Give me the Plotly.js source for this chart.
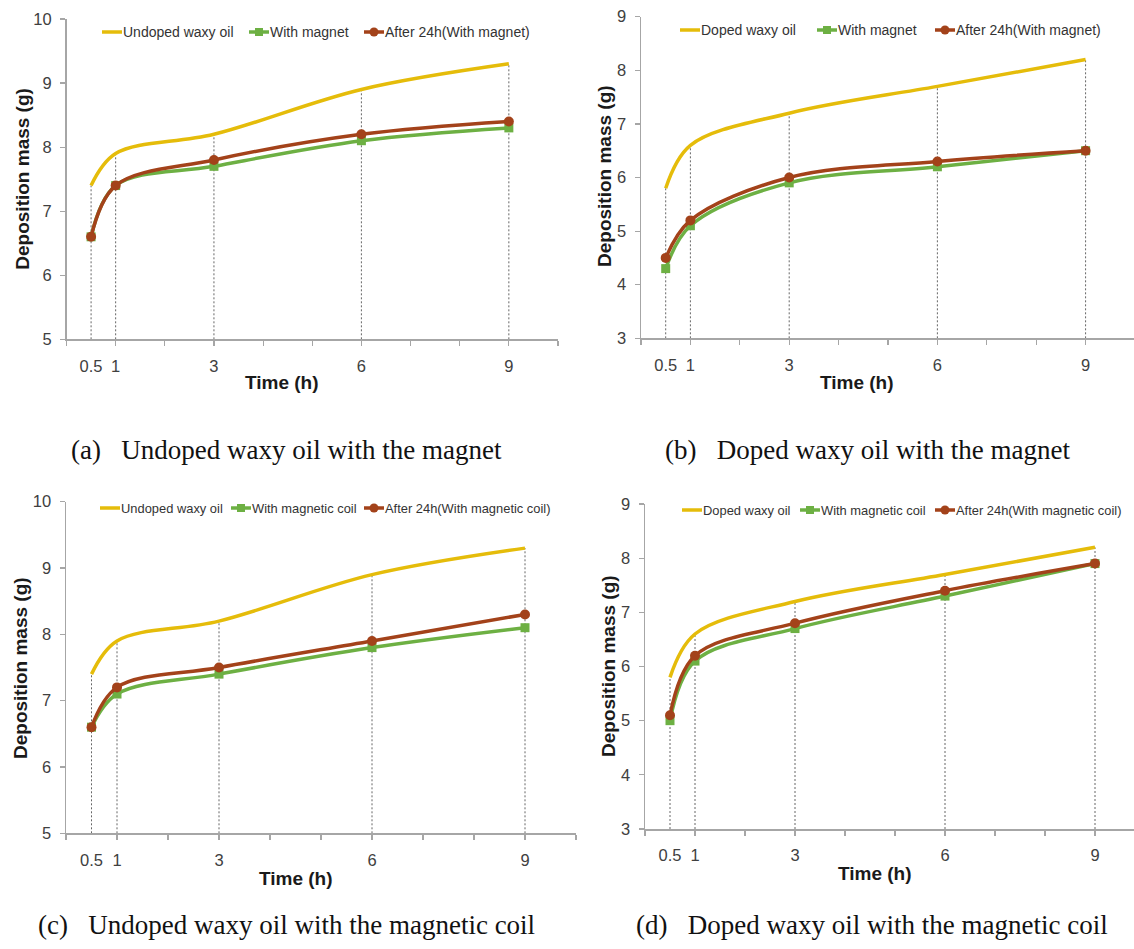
<!DOCTYPE html>
<html><head><meta charset="utf-8">
<script src="https://cdn.plot.ly/plotly-3.0.1.min.js"></script>
<style>html,body{margin:0;padding:0;background:#fff}#chart{width:1134px;height:949px}</style>
</head><body><div id="chart"></div>
<script>
// ---------- data ----------
const time = [0.5, 1, 3, 6, 9];
const timeTickText = ['0.5', '1', '3', '6', '9'];

const undopedOil = [7.4, 7.9, 8.2, 8.9, 9.3];
const dopedOil = [5.8, 6.6, 7.2, 7.7, 8.2];

const undopedWithMagnet = [6.6, 7.4, 7.7, 8.1, 8.3];
const undopedAfter24hMagnet = [6.6, 7.4, 7.8, 8.2, 8.4];

const dopedWithMagnet = [4.3, 5.1, 5.9, 6.2, 6.5];
const dopedAfter24hMagnet = [4.5, 5.2, 6.0, 6.3, 6.5];

const undopedWithCoil = [6.6, 7.1, 7.4, 7.8, 8.1];
const undopedAfter24hCoil = [6.6, 7.2, 7.5, 7.9, 8.3];

const dopedWithCoil = [5.0, 6.1, 6.7, 7.3, 7.9];
const dopedAfter24hCoil = [5.1, 6.2, 6.8, 7.4, 7.9];

const captions = [
  '(a)\u00a0\u00a0 Undoped waxy oil with the magnet',
  '(b)\u00a0\u00a0 Doped waxy oil with the magnet',
  '(c)\u00a0\u00a0 Undoped waxy oil with the magnetic coil',
  '(d)\u00a0\u00a0 Doped waxy oil with the magnetic coil'
];
const xTitle = 'Time (h)';
const yTitle = 'Deposition mass (g)';

// ---------- styling ----------
const W = 1134, H = 949;
const px = v => v / W;
const py = v => 1 - v / H;
const yellow = '#E5BC0A', green = '#6DB043', brown = '#A3421A';
const seriesColors = [yellow, green, brown];
const axisColor = '#A6A6A6';
const textColor = '#404040';
const sans = 'Liberation Sans, Arial, sans-serif';

const panels = [
  { names: ['Undoped waxy oil', 'With magnet', 'After 24h(With magnet)'],
    series: [undopedOil, undopedWithMagnet, undopedAfter24hMagnet],
    yRange: [5, 10], xRange: [0, 10],
    xDom: [66.5, 558], yDom: [19, 339.3],
    legX: [122, 269, 384], legY: 32, legFont: 14,
    xTitlePos: [281.5, 383], yTitlePos: [21.7, 179],
    capPos: [69, 450] },
  { names: ['Doped waxy oil', 'With magnet', 'After 24h(With magnet)'],
    series: [dopedOil, dopedWithMagnet, dopedAfter24hMagnet],
    yRange: [3, 9], xRange: [0, 9.98],
    xDom: [641, 1134], yDom: [16.7, 338.3],
    legX: [700, 837, 955], legY: 30, legFont: 14,
    xTitlePos: [857, 383], yTitlePos: [605, 176],
    capPos: [663, 450] },
  { names: ['Undoped waxy oil', 'With magnetic coil', 'After 24h(With magnetic coil)'],
    series: [undopedOil, undopedWithCoil, undopedAfter24hCoil],
    yRange: [5, 10], xRange: [0, 10],
    xDom: [66, 576], yDom: [501.7, 833.3],
    legX: [120, 251, 384], legY: 508, legFont: 12.9,
    xTitlePos: [296, 878], yTitlePos: [20, 668],
    capPos: [36, 925] },
  { names: ['Doped waxy oil', 'With magnetic coil', 'After 24h(With magnetic coil)'],
    series: [dopedOil, dopedWithCoil, dopedAfter24hCoil],
    yRange: [3, 9], xRange: [0, 9.78],
    xDom: [645, 1134], yDom: [504, 829],
    legX: [702, 820, 955], legY: 510, legFont: 12.9,
    xTitlePos: [874.5, 873], yTitlePos: [608, 666],
    capPos: [634, 925] }
];

const traces = [];
const annotations = [];
const shapes = [];
const layout = {
  width: W, height: H,
  margin: { l: 0, r: 0, t: 0, b: 0 },
  paper_bgcolor: '#fff', plot_bgcolor: '#fff',
  font: { family: sans, color: textColor },
  showlegend: false,
  annotations: annotations,
  shapes: shapes
};

panels.forEach((p, i) => {
  const sfx = i === 0 ? '' : String(i + 1);
  const xa = 'x' + sfx, ya = 'y' + sfx;

  // drop lines from the axis up to the top curve
  const dx = [], dy = [];
  time.forEach((t, k) => { dx.push(t, t, null); dy.push(p.yRange[0], p.series[0][k], null); });
  traces.push({ x: dx, y: dy, xaxis: xa, yaxis: ya, mode: 'lines', showlegend: false,
    hoverinfo: 'skip', line: { color: '#666', width: 1, dash: '2px,2px' } });

  const styles = [
    { mode: 'lines', line: { color: yellow, width: 3.5, shape: 'spline', smoothing: 1 } },
    { mode: 'lines+markers', line: { color: green, width: 3.5, shape: 'spline', smoothing: 1 },
      marker: { symbol: 'square', size: 9, color: green } },
    { mode: 'lines+markers', line: { color: brown, width: 3.5, shape: 'spline', smoothing: 1 },
      marker: { symbol: 'circle', size: 10, color: brown } }
  ];

  p.series.forEach((s, k) => {
    traces.push(Object.assign({ x: time, y: s, name: p.names[k], xaxis: xa, yaxis: ya,
      showlegend: false, cliponaxis: false }, styles[k]));

    // legend entry: short line + marker + text
    const ts = p.legX[k], ly = p.legY, c = seriesColors[k];
    shapes.push({ type: 'line', xref: 'paper', yref: 'paper',
      x0: px(ts - 20), x1: px(ts), y0: py(ly), y1: py(ly), line: { color: c, width: 3.5 } });
    if (k === 1) shapes.push({ type: 'rect', xref: 'paper', yref: 'paper',
      x0: px(ts - 14), x1: px(ts - 6), y0: py(ly + 4), y1: py(ly - 4),
      fillcolor: c, line: { width: 0 } });
    if (k === 2) shapes.push({ type: 'circle', xref: 'paper', yref: 'paper',
      x0: px(ts - 14.5), x1: px(ts - 5.5), y0: py(ly + 4.5), y1: py(ly - 4.5),
      fillcolor: c, line: { width: 0 } });
    annotations.push({ text: p.names[k], xref: 'paper', yref: 'paper',
      x: px(ts - 1), y: py(ly), xanchor: 'left', yanchor: 'middle', showarrow: false,
      font: { family: sans, size: p.legFont, color: '#333' } });
  });

  layout['xaxis' + sfx] = {
    domain: [px(p.xDom[0]), px(p.xDom[1])], range: p.xRange, anchor: ya,
    tickmode: 'array', tickvals: time, ticktext: timeTickText, ticks: '',
    ticklabelstandoff: 11,
    minor: { ticks: 'outside', ticklen: 5, tickwidth: 1.2, tickcolor: axisColor,
             tickmode: 'linear', tick0: 0, dtick: 1, showgrid: false },
    showline: true, linecolor: axisColor, linewidth: 1.5,
    showgrid: false, zeroline: false, fixedrange: true,
    tickfont: { family: sans, size: 16.5, color: textColor }
  };
  layout['yaxis' + sfx] = {
    domain: [py(p.yDom[1]), py(p.yDom[0])], range: p.yRange, anchor: xa,
    tickmode: 'linear', tick0: 0, dtick: 1, ticks: 'outside', ticklen: 5,
    tickwidth: 1.2, tickcolor: axisColor, ticklabelstandoff: 5,
    showline: true, linecolor: axisColor, linewidth: 1.5,
    showgrid: false, zeroline: false, fixedrange: true,
    tickfont: { family: sans, size: 16.5, color: textColor }
  };

  annotations.push({ text: xTitle, xref: 'paper', yref: 'paper',
    x: px(p.xTitlePos[0]), y: py(p.xTitlePos[1]), xanchor: 'center', yanchor: 'middle',
    showarrow: false, font: { family: sans, size: 19, color: '#1a1a1a', weight: 'bold' } });
  annotations.push({ text: yTitle, xref: 'paper', yref: 'paper', textangle: -90,
    x: px(p.yTitlePos[0]), y: py(p.yTitlePos[1]), xanchor: 'center', yanchor: 'middle',
    showarrow: false, font: { family: sans, size: 19, color: '#1a1a1a', weight: 'bold' } });
  annotations.push({ text: captions[i], xref: 'paper', yref: 'paper',
    x: px(p.capPos[0]), y: py(p.capPos[1]), xanchor: 'left', yanchor: 'middle',
    showarrow: false, font: { family: 'Liberation Serif, Times New Roman, serif', size: 27, color: '#111' } });
});

Plotly.newPlot('chart', traces, layout, { staticPlot: true, displayModeBar: false });
</script>
</body></html>
